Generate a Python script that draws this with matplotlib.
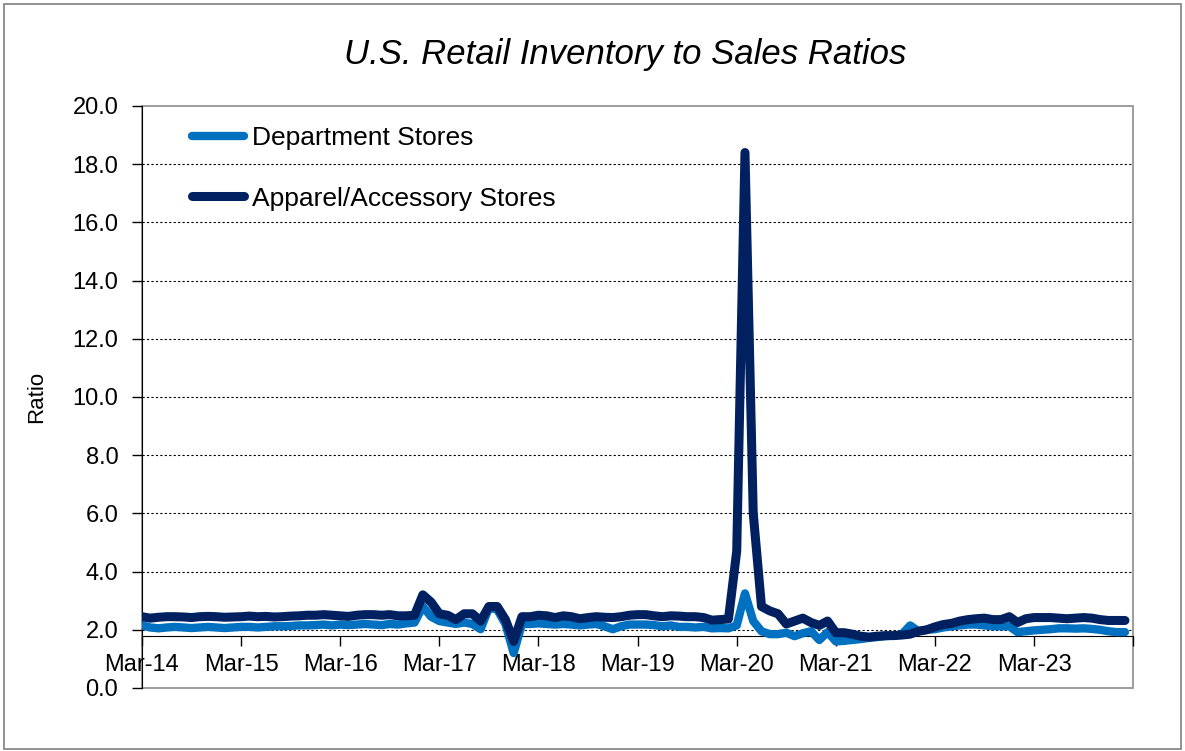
import matplotlib
matplotlib.use("Agg")
import matplotlib.pyplot as plt
from matplotlib.patches import Rectangle

plt.rcParams["font.family"] = ["Liberation Sans", "DejaVu Sans"]

# monthly ratios, Mar-14 .. Feb-24
department = [
    2.15, 2.08, 2.05, 2.08, 2.10, 2.08, 2.06, 2.08, 2.10, 2.08, 2.06, 2.08,
    2.10, 2.10, 2.08, 2.10, 2.12, 2.12, 2.13, 2.15, 2.15, 2.16, 2.18, 2.15,
    2.18, 2.16, 2.18, 2.20, 2.18, 2.16, 2.20, 2.18, 2.22, 2.25, 2.80, 2.45,
    2.30, 2.25, 2.20, 2.25, 2.20, 2.02, 2.75, 2.70, 2.20, 1.20, 2.20, 2.20,
    2.22, 2.20, 2.18, 2.20, 2.18, 2.15, 2.18, 2.20, 2.12, 2.02, 2.12, 2.18,
    2.18, 2.18, 2.16, 2.12, 2.15, 2.10, 2.10, 2.08, 2.10, 2.05, 2.06, 2.05,
    2.15, 3.25, 2.30, 1.95, 1.85, 1.85, 1.90, 1.78, 1.88, 1.95, 1.65, 1.92,
    1.60, 1.62, 1.65, 1.68, 1.72, 1.75, 1.78, 1.80, 1.85, 2.15, 1.95, 2.00,
    2.02, 2.08, 2.12, 2.15, 2.18, 2.18, 2.15, 2.12, 2.12, 2.12, 1.92, 1.95,
    1.98, 2.00, 2.02, 2.05, 2.05, 2.04, 2.05, 2.03, 2.00, 1.95, 1.92, 1.92,
]
apparel = [
    2.45, 2.40, 2.43, 2.45, 2.45, 2.44, 2.42, 2.45, 2.46, 2.45, 2.43, 2.44,
    2.45, 2.47, 2.45, 2.46, 2.44, 2.45, 2.47, 2.48, 2.50, 2.50, 2.52, 2.50,
    2.48, 2.46, 2.50, 2.52, 2.52, 2.50, 2.52, 2.48, 2.48, 2.50, 3.20, 2.95,
    2.55, 2.50, 2.35, 2.55, 2.55, 2.30, 2.80, 2.80, 2.35, 1.60, 2.45, 2.45,
    2.50, 2.48, 2.42, 2.48, 2.45, 2.38, 2.42, 2.45, 2.43, 2.42, 2.45, 2.50,
    2.52, 2.52, 2.48, 2.45, 2.48, 2.47, 2.45, 2.45, 2.42, 2.33, 2.35, 2.37,
    4.70, 18.40, 6.00, 2.80, 2.65, 2.55, 2.20, 2.30, 2.40, 2.25, 2.15, 2.30,
    1.90, 1.90, 1.85, 1.78, 1.75, 1.78, 1.80, 1.80, 1.82, 1.85, 1.95, 2.00,
    2.10, 2.18, 2.22, 2.30, 2.35, 2.38, 2.40, 2.35, 2.35, 2.45, 2.25, 2.38,
    2.42, 2.42, 2.42, 2.40, 2.38, 2.40, 2.42, 2.40, 2.35, 2.32, 2.32, 2.32,
]
tick_labels = ["Mar-14", "Mar-15", "Mar-16", "Mar-17", "Mar-18",
               "Mar-19", "Mar-20", "Mar-21", "Mar-22", "Mar-23", ""]

months = list(range(len(apparel)))

fig = plt.figure(figsize=(11.85, 7.51), dpi=100)
ax = fig.add_axes([0.1198, 0.0839, 0.8365, 0.775])

# category axis crosses the value axis a bit below 2.0, like the Excel original
ax.spines["bottom"].set_position(("data", 1.8))
ax.spines["top"].set_visible(False)
ax.spines["right"].set_visible(False)

ax.plot(months, department, color="#0070C0", lw=6, label="Department Stores",
        solid_capstyle="round", solid_joinstyle="round", zorder=3)
ax.plot(months, apparel, color="#002060", lw=6.5, label="Apparel/Accessory Stores",
        solid_capstyle="round", solid_joinstyle="round", zorder=4)

ax.set_xlim(0, 120)
ax.set_ylim(0, 20)
ax.set_yticks(range(0, 21, 2))
ax.set_yticklabels([f"{v:.1f}" for v in range(0, 21, 2)], fontsize=17)
ax.set_xticks(range(0, 121, 12))
ax.set_xticklabels(tick_labels, fontsize=17)
ax.tick_params(axis="y", direction="out", length=7, width=1, pad=10)
ax.tick_params(axis="x", direction="out", length=7, width=1, pad=6)

ax.yaxis.grid(True, color="black", linestyle=(0, (2, 2)), linewidth=0.8)
grid = ax.get_ygridlines()
grid[0].set_visible(False)
grid[-1].set_visible(False)

ax.add_patch(Rectangle((0, 0), 1, 1, transform=ax.transAxes, fill=False,
                       edgecolor="#8c8c8c", lw=1.2, zorder=1, clip_on=False))

ax.set_ylabel("Ratio", fontsize=16, labelpad=18)

ax.legend(loc="upper left", bbox_to_anchor=(0.027, 1.006), frameon=False,
          fontsize=19, handlelength=1.95, handletextpad=0.3, labelspacing=1.38)

fig.text(0.528, 0.927, "U.S. Retail Inventory to Sales Ratios", fontsize=25,
         style="italic", ha="center", va="center")

fig.patches.append(Rectangle((0.003, 0.003), 0.994, 0.992, transform=fig.transFigure,
                             fill=False, edgecolor="#7f7f7f", lw=1.2))

fig.savefig("out.png", dpi=100)
